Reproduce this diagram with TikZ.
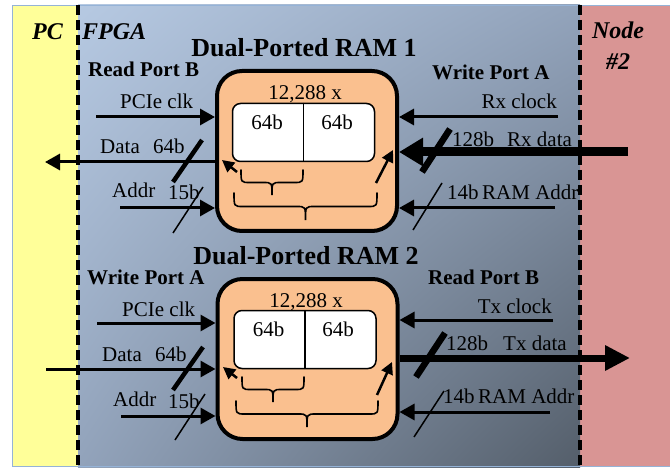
\documentclass[tikz,border=0pt]{standalone}
\usepackage{fontspec}
\setmainfont{Liberation Serif}
\usetikzlibrary{arrows.meta,shadings}
\definecolor{pcyellow}{RGB}{255,255,153}
\definecolor{nodepink}{RGB}{217,149,148}
\definecolor{ramorange}{RGB}{250,192,143}
\definecolor{borderblue}{RGB}{149,179,215}
\definecolor{fpgaul}{RGB}{182,201,226}
\definecolor{fpgamid}{RGB}{146,163,187}
\definecolor{fpgalr}{RGB}{84,94,106}
\newcommand\drawcurly[4]{%
  \draw[bracestroke] (#1,#3) .. controls (#1,{#3+0.5*#4}) .. ({#1+9},{#3+0.5*#4})
    -- ({(#1+#2)/2-9},{#3+0.5*#4}) .. controls ({(#1+#2)/2},{#3+0.5*#4}) .. ({(#1+#2)/2},{#3+#4})
    .. controls ({(#1+#2)/2},{#3+0.5*#4}) .. ({(#1+#2)/2+9},{#3+0.5*#4})
    -- ({#2-9},{#3+0.5*#4}) .. controls (#2,{#3+0.5*#4}) .. (#2,#3);}
\begin{document}
\begin{tikzpicture}[x=1pt,y=-1pt,
  lab/.style={font=\fontsize{21}{24}\selectfont, inner sep=0pt, anchor=base west},
  labr/.style={lab, anchor=base east},
  portlab/.style={lab, font=\fontsize{21}{24}\selectfont\bfseries},
  ramtitle/.style={font=\fontsize{26}{29}\selectfont\bfseries, inner sep=0pt, anchor=base},
  regionlab/.style={font=\fontsize{24}{27}\selectfont\bfseries\itshape, inner sep=0pt, anchor=base},
  rambox/.style={draw, line width=4pt, fill=ramorange, rounded corners=25pt, minimum width=180pt, minimum height=160pt, inner sep=0pt},
  cellbox/.style={draw, line width=1.5pt, fill=white, rounded corners=8pt, minimum width=142pt, minimum height=58pt, inner sep=0pt},
  arr/.style={line width=3pt, -{Triangle[length=15pt,width=16pt]}},
  inarr/.style={line width=2.5pt, -{Triangle[length=12pt,width=12pt]}},
  fatin/.style={line width=9pt, -{Triangle[length=24pt,width=27pt]}},
  fatout/.style={line width=7pt, -{Triangle[length=25pt,width=24pt]}},
  busthick/.style={line width=4.5pt},
  busfat/.style={line width=6.5pt},
  busthin/.style={line width=1.5pt},
  bracestroke/.style={line width=1.6pt, line cap=round},
  regionline/.style={dash pattern=on 10pt off 5pt, line width=4pt}
]
\useasboundingbox (0,0) rectangle (670,468);
% background regions
\fill[pcyellow] (12,5) rectangle (78,467);
\fill[nodepink] (580,5) rectangle (670,467);
\shade[upper left=fpgaul, upper right=fpgamid, lower left=fpgamid, lower right=fpgalr] (78,5) rectangle (580,467);
\draw[borderblue, line width=1pt] (12.5,5.5) rectangle (670,466.5);
\draw[regionline] (78,5) -- (78,467);
\draw[regionline] (580,5) -- (580,467);
% region labels
\node[regionlab] (pc) at (47.5,40) {PC};
\node[regionlab, anchor=base west] (fpga) at (82,40) {FPGA};
\node[regionlab] (nodea) at (618,39) {Node};
\node[regionlab] (nodeb) at (618,70) {\#2};

% ================= RAM 1 =================
\node[ramtitle] (t1) at (304,57) {Dual-Ported RAM 1};
\node[portlab] (rpb1) at (88,77) {Read Port B};
\node[portlab] (wpa1) at (432,80) {Write Port A};
\node[rambox] (ram1) at (307,151) {};
\node[cellbox] (cells1) at (303.5,132.5) {};
\draw[line width=1.5pt] (cells1.north) -- (cells1.south);
\node[lab, anchor=base] (cnt1) at (305,100) {12,288 x};
\node[lab, anchor=base] (w1a) at (267,130) {64b};
\node[lab, anchor=base] (w1b) at (337,130) {64b};
\drawcurly{241}{303}{170}{25}
\drawcurly{234}{377}{193}{27}
\coordinate (ia1) at (237,172); \coordinate (ib1) at (222,160);
\draw[inarr] (ia1) -- (ib1);
\coordinate (ic1) at (376,183); \coordinate (id1) at (393,150);
\draw[inarr] (ic1) -- (id1);
% left side
\coordinate (pc1) at (96,117);
\draw[arr] (pc1) -- (pc1 -| ram1.west);
\coordinate (dt1) at (45,162);
\draw[arr] (dt1 -| ram1.west) -- (dt1);
\coordinate (ad1) at (120,208);
\draw[arr] (ad1) -- (ad1 -| ram1.west);
\node[lab] (pcl1) at (120,109) {PCIe clk};
\node[lab] (dl1) at (100,154) {Data};
\node[lab] (dw1) at (153,154) {64b};
\node[lab] (al1) at (112,197) {Addr};
\node[lab] (aw1) at (168,200) {15b};
\draw[busthick] (173,182) -- (202,140);
\draw[busthin] (173,233) -- (203,187);
% right side
\coordinate (rc1) at (558,117);
\draw[arr] (rc1) -- (rc1 -| ram1.east);
\coordinate (rd1) at (628,152);
\draw[fatin] (rd1) -- (rd1 -| ram1.east);
\coordinate (ra1) at (555,208);
\draw[arr] (ra1) -- (ra1 -| ram1.east);
\node[labr] (rcl1) at (557,109) {Rx clock};
\node[lab] (rdw1) at (452,147) {128b};
\node[lab] (rdl1) at (507,147) {Rx data};
\node[lab] (raw1) at (447,200) {14b};
\node[lab] (ral1) at (482,200) {RAM Addr};
\draw[busfat] (422,172) -- (450,129);
\draw[busthin] (413,230) -- (442,183);

% ================= RAM 2 =================
\node[ramtitle] (t2) at (306,264) {Dual-Ported RAM 2};
\node[portlab] (wpa2) at (87,284) {Write Port A};
\node[portlab] (rpb2) at (428,284) {Read Port B};
\node[rambox] (ram2) at (307.5,359) {};
\node[cellbox] (cells2) at (305,339.5) {};
\draw[line width=1.5pt] (cells2.north) -- (cells2.south);
\node[lab, anchor=base] (cnt2) at (306,307) {12,288 x};
\node[lab, anchor=base] (w2a) at (268.5,336) {64b};
\node[lab, anchor=base] (w2b) at (338,336) {64b};
\drawcurly{242}{304}{377}{25}
\drawcurly{236}{378}{401}{26}
\coordinate (ia2) at (237,378); \coordinate (ib2) at (223,367);
\draw[inarr] (ia2) -- (ib2);
\coordinate (ic2) at (377,395); \coordinate (id2) at (392,362);
\draw[inarr] (ic2) -- (id2);
% left side
\coordinate (pc2) at (97,323);
\draw[arr] (pc2) -- (pc2 -| ram2.west);
\coordinate (dt2) at (46,369);
\draw[arr] (dt2) -- (dt2 -| ram2.west);
\coordinate (ad2) at (121,416);
\draw[arr] (ad2) -- (ad2 -| ram2.west);
\node[lab] (pcl2) at (122,316) {PCIe clk};
\node[lab] (dl2) at (102,361) {Data};
\node[lab] (dw2) at (155,361) {64b};
\node[lab] (al2) at (113,406) {Addr};
\node[lab] (aw2) at (168,408) {15b};
\draw[busthick] (173,390) -- (203,347);
\draw[busthin] (175,440) -- (205,394);
% right side
\coordinate (tc2) at (553,320);
\draw[arr] (tc2) -- (tc2 -| ram2.east);
\coordinate (td2) at (630,358);
\draw[fatout] (td2 -| ram2.east) -- (td2);
\coordinate (ta2) at (550,412);
\draw[arr] (ta2) -- (ta2 -| ram2.east);
\node[labr] (tcl2) at (552,313) {Tx clock};
\node[lab] (tdw2) at (446,350) {128b};
\node[lab] (tdl2) at (503,350) {Tx data};
\node[lab] (taw2) at (443,403) {14b};
\node[lab] (tal2) at (478,403) {RAM Addr};
\draw[busfat] (416,377) -- (445,333);
\draw[busthin] (414,437) -- (444,391);
\end{tikzpicture}
\end{document}
